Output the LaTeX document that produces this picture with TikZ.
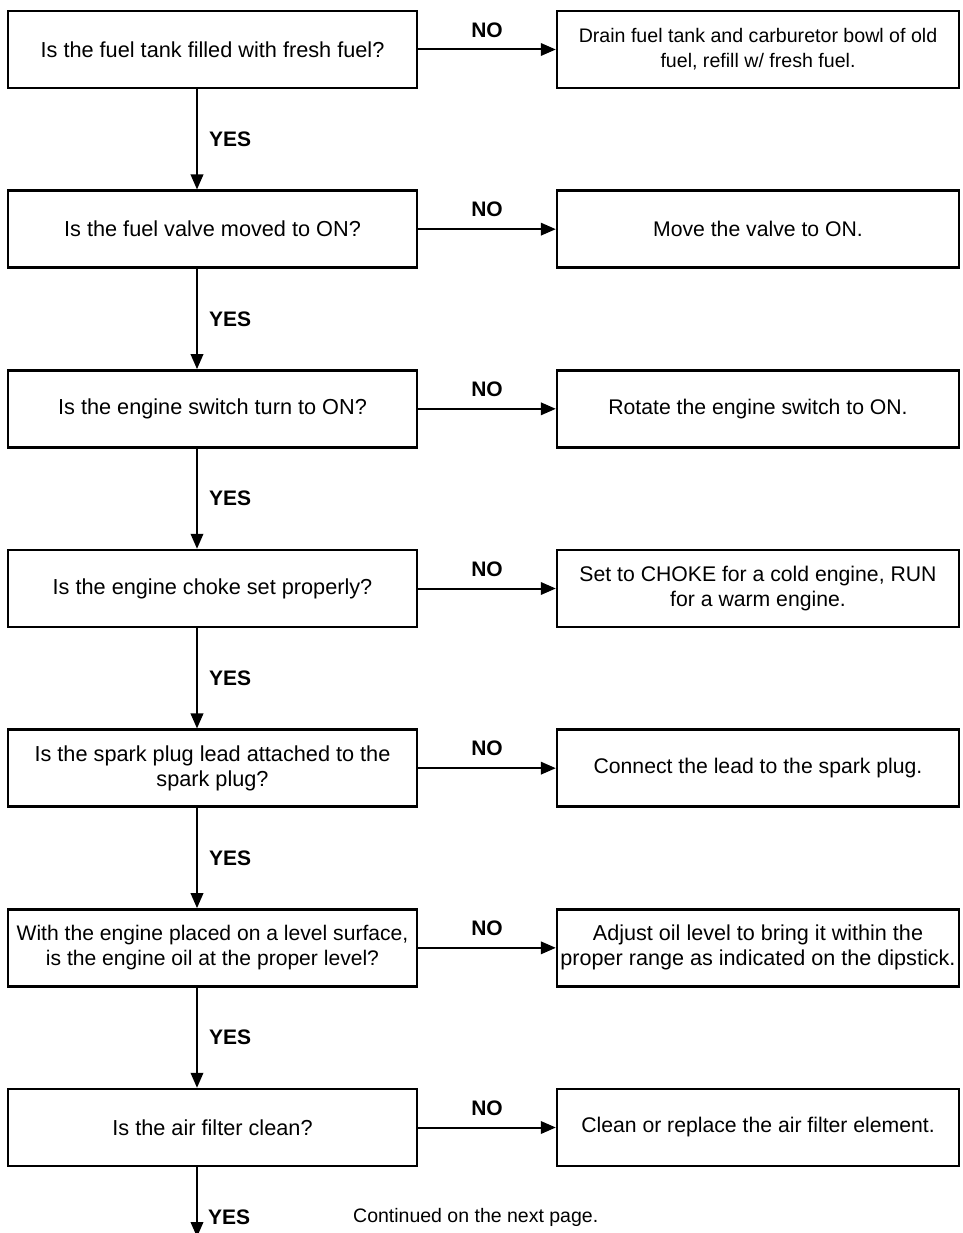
\documentclass[tikz,border=0pt]{standalone}
\usepackage{fontspec}
\setmainfont{Liberation Sans}
\usetikzlibrary{arrows.meta}

\begin{document}
\begin{tikzpicture}[x=1pt, y=-1pt,
  question/.style={draw, line width=2.4pt, rectangle, minimum width=409pt,
    minimum height=77pt, align=center, inner sep=0pt,
    font=\fontsize{21.7}{25}\selectfont},
  action/.style={question, minimum width=402pt,
    font=\fontsize{21.2}{25}\selectfont},
  small/.style={font=\fontsize{19.6}{25}\selectfont},
  flow/.style={line width=2pt, -{Triangle[length=15pt,width=12.5pt]}},
  tag/.style={inner sep=0pt, font=\bfseries\fontsize{21}{25}\selectfont},
  note/.style={inner sep=0pt, font=\fontsize{19.5}{25}\selectfont},
]
\useasboundingbox (0,0) rectangle (962,1233);
\clip (0,0) rectangle (962,1233);

% vertical line along which the YES connectors run
\coordinate (spine) at (197,0);

% question boxes (left column)
\node[question] (q1) at (212.5,49.5)   {Is the fuel tank filled with fresh fuel?};
\node[question] (q2) at (212.5,229.17) {Is the fuel valve moved to ON?};
\node[question] (q3) at (212.5,408.83) {Is the engine switch turn to ON?};
\node[question] (q4) at (212.5,588.5)  {Is the engine choke set properly?};
\node[question] (q5) at (212.5,768.17) {Is the spark plug lead attached to the\\spark plug?};
\node[question, font=\fontsize{21.1}{25}\selectfont] (q6) at (212.5,947.83) {With the engine placed on a level surface,\\is the engine oil at the proper level?};
\node[question] (q7) at (212.5,1127.5) {Is the air filter clean?};

% remedy boxes (right column)
\node[action, small] (a1) at (758,49.5)   {Drain fuel tank and carburetor bowl of old\\fuel, refill w/ fresh fuel.};
\node[action] (a2) at (758,229.17) {Move the valve to ON.};
\node[action] (a3) at (758,408.83) {Rotate the engine switch to ON.};
\node[action] (a4) at (758,588.5)  {Set to CHOKE for a cold engine, RUN\\for a warm engine.};
\node[action] (a5) at (758,768.17) {Connect the lead to the spark plug.};
\node[action, font=\fontsize{21.6}{25}\selectfont] (a6) at (758,947.83) {Adjust oil level to bring it within the\\proper range as indicated on the dipstick.};
\node[action] (a7) at (758,1127.5) {Clean or replace the air filter element.};

% NO branches
\foreach \i in {1,...,7}{
  \draw[flow] (q\i.east) -- (a\i.west)
    node[midway, above=11pt, tag] {NO};
}

% YES branches
\foreach \i/\j in {1/2,2/3,3/4,4/5,5/6,6/7}{
  \draw[flow] (q\i.south -| spine) -- (q\j.north -| spine)
    node[midway, right=11pt, tag] {YES};
}

% last YES leaves the page
\coordinate (exit) at (197,1237);
\draw[flow] (q7.south -| spine) -- (exit);
\node[tag, anchor=west] (lastyes) at (208,1217) {YES};
\node[note, anchor=west] (cont) at (353,1217) {Continued on the next page.};
\end{tikzpicture}
\end{document}
